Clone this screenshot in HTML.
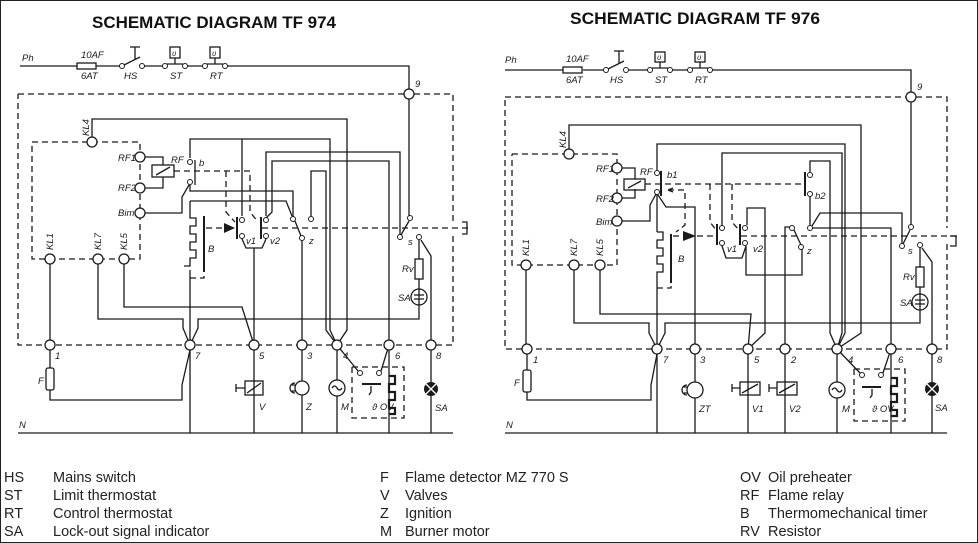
<!DOCTYPE html>
<html><head><meta charset="utf-8"><style>
html,body{margin:0;padding:0;background:#fff;}
svg{display:block;}
.w{fill:none;stroke:#1a1a1a;stroke-width:1.3;}
.d{fill:none;stroke:#1a1a1a;stroke-width:1.3;stroke-dasharray:6 4;}
.n{fill:#fff;stroke:#1a1a1a;stroke-width:1.3;}
.c{fill:#fff;stroke:#1a1a1a;stroke-width:1;}
.l{font-family:"Liberation Sans",sans-serif;font-style:italic;font-size:9.5px;fill:#1a1a1a;}
.t{font-family:"Liberation Sans",sans-serif;font-weight:bold;font-size:17px;fill:#111;}
.g{font-family:"Liberation Sans",sans-serif;font-size:14.5px;fill:#222;}
</style></head><body>
<svg width="978" height="543" viewBox="0 0 978 543" xmlns="http://www.w3.org/2000/svg">
<rect x="0.5" y="0.5" width="977" height="542" fill="#fff" stroke="#222" stroke-width="1"/>
<text class="t" x="92" y="28" textLength="244" lengthAdjust="spacingAndGlyphs">SCHEMATIC DIAGRAM TF 974</text>
<text class="t" x="570" y="24" textLength="250" lengthAdjust="spacingAndGlyphs">SCHEMATIC DIAGRAM TF 976</text>

<!-- ================= LEFT ================= -->
<g>
<path class="w" d="M20,66 H77 M96,66 H120 M144,66 H163 M187,66 H203 M227,66 H409 V89"/>
<rect x="77" y="63" width="19" height="6" class="w"/>
<circle class="c" cx="122" cy="66" r="2.5"/><circle class="c" cx="142" cy="66" r="2.5"/>
<path class="w" d="M124,65 L140,57 M135,60 V47 M130,47 H140"/>
<circle class="c" cx="165" cy="66" r="2.5"/><circle class="c" cx="185" cy="66" r="2.5"/>
<path class="w" d="M167,64 H183 M175,64 V58"/><rect class="w" x="170" y="47" width="10" height="11"/>
<circle class="c" cx="205" cy="66" r="2.5"/><circle class="c" cx="225" cy="66" r="2.5"/>
<path class="w" d="M207,64 H223 M215,64 V58"/><rect class="w" x="210" y="47" width="10" height="11"/>
<text class="l" x="22" y="61">Ph</text><text class="l" x="81" y="58">10AF</text><text class="l" x="81" y="79">6AT</text>
<text class="l" x="124" y="79">HS</text><text class="l" x="170" y="79">ST</text><text class="l" x="210" y="79">RT</text>
<text class="l" x="172" y="56" style="font-size:8px">υ</text><text class="l" x="212" y="56" style="font-size:8px">υ</text>
<text class="l" x="415" y="87">9</text>

<path class="d" d="M18,94 H404 M414,94 H453 V222 M453,236 V345 H18 V94"/>
<path class="d" d="M32,142 H140 V259 H32 V142"/>
<path class="w" d="M462,222 h5 v12 h-5"/>

<path class="w" d="M92,137 V119 H347 V330 L337,345"/>
<path class="w" d="M190,158 V139 H242 V216 M242,139 H330 V330 L337,345"/>
<path class="w" d="M400,235 V152 H266 V216"/>
<path class="w" d="M389,340 V161 H272 V212 L266,218"/>
<path class="w" d="M311,216 V171 H326 V330 L337,345"/>
<path class="w" d="M145,157 H163 V165 M145,188 H163 V177"/>
<rect class="w" x="152" y="165" width="22" height="12"/><path class="w" d="M156,175 L170,167"/>
<text class="l" x="171" y="163">RF</text>
<path class="w" d="M195,160 V185"/>
<circle class="c" cx="190" cy="162" r="2.5"/><circle class="c" cx="190" cy="182" r="2.5"/>
<text class="l" x="199" y="166">b</text>
<path class="w" d="M145,213 H182 V197 L189,185"/>
<path class="w" d="M190,185 V191 H293 V217"/>
<path class="w" d="M190,201 H286 L292,216"/>
<path class="d" d="M174,171 H250 V212 L258,222 M226,171 V212 L235,222"/>
<path class="w" d="M295,221 L301,236"/>
<circle class="c" cx="293" cy="219" r="2.5"/><circle class="c" cx="311" cy="219" r="2.5"/><circle class="c" cx="302" cy="238" r="2.5"/>
<text class="l" x="309" y="244">z</text>
<path class="w" d="M302,241 V340"/>
<path class="w" d="M190,201 V218 h6 v8 h-6 v8 h6 v8 h-6 v8 h6 v8 h-6 v8 h-6 M190,270 V340"/>
<path class="w" d="M204,216 V272" style="stroke-width:2"/>
<path class="d" d="M190,278 H204 V272"/>
<text class="l" x="208" y="252">B</text>
<path class="d" d="M206,228 H226"/>
<path d="M224,223 L235,228 L224,233 Z" fill="#1a1a1a"/>
<path class="w" d="M237,217 V239 M261,217 V239" style="stroke-width:2"/>
<path class="d" d="M262,228 H470"/>
<circle class="c" cx="242" cy="220" r="2.5"/><circle class="c" cx="242" cy="236" r="2.5"/>
<circle class="c" cx="266" cy="220" r="2.5"/><circle class="c" cx="266" cy="236" r="2.5"/>
<path class="w" d="M242,239 L246,248 H262 L266,239 M254,248 V340"/>
<text class="l" x="246" y="244">v1</text><text class="l" x="270" y="244">v2</text>
<path class="w" d="M409,99 V216 M409,221 L401,235"/>
<circle class="c" cx="410" cy="218" r="2.5"/><circle class="c" cx="400" cy="237" r="2.5"/><circle class="c" cx="419" cy="237" r="2.5"/>
<text class="l" x="408" y="245">s</text>
<path class="w" d="M419,240 V259 M419,279 V289 M421,240 L431,256 V340"/>
<rect class="w" x="415" y="259" width="8" height="20"/>
<text class="l" x="402" y="272">Rv</text>
<circle class="w" cx="419" cy="297" r="8"/><path class="w" d="M419,289 V305 M414,295 H424 M414,299 H424"/>
<text class="l" x="398" y="301">SA</text>
<path class="w" d="M419,305 V319 H198 V328 L190,345 M98,264 V319 H183 V328 L190,345"/>
<path class="w" d="M124,264 V307 H242 L254,345"/>
<path class="w" d="M50,264 V340 M50,350 V368 M50,390 V400 H182 V385 L190,350 M190,350 V433"/>
<rect class="w" x="46" y="368" width="8" height="22" rx="2"/>
<text class="l" x="38" y="384">F</text>
<path class="w" d="M254,350 V433 M302,350 V433 M337,350 V433 M389,350 V433 M431,350 V433"/>
<rect class="w" x="245" y="381" width="18" height="14" fill="#fff"/><path class="w" d="M247,393 L261,383 M236,384 V392 M236,388 H245"/>
<text class="l" x="259" y="410">V</text>
<circle class="n" cx="302" cy="388" r="7"/><path class="w" d="M295,383 a5,5 0 0 0 0,10 M292,385 h3 M292,391 h3"/>
<text class="l" x="306" y="410">Z</text>
<circle class="n" cx="337" cy="388" r="8"/><path class="w" d="M332,388 q2.5,-4 5,0 t5,0"/>
<text class="l" x="341" y="410">M</text>
<path class="d" d="M352,367 H404 V418 H352 V367"/>
<path class="w" d="M337,345 L358,371 M389,345 L381,371"/>
<circle class="c" cx="360" cy="373" r="2.5"/><circle class="c" cx="379" cy="373" r="2.5"/>
<path class="w" d="M362,384 H381" style="stroke-width:2"/><path class="w" d="M371,386 v6 l-2,3"/>
<path d="M389,376 h6 v8 h-6 v8 h6 v8 h-6 v8 h6 v6 h-6" style="fill:none;stroke:#1a1a1a;stroke-width:2.2"/>
<text class="l" x="372" y="410">ϑ OV</text>
<circle cx="431" cy="389" r="7" fill="#1a1a1a"/><path d="M426,384 L436,394 M436,384 L426,394" stroke="#fff" stroke-width="1.3"/>
<text class="l" x="435" y="411">SA</text>
<path class="w" d="M18,433 H453"/><text class="l" x="19" y="428">N</text>
<g class="n">
<circle cx="409" cy="94" r="5"/><circle cx="92" cy="142" r="5"/><circle cx="140" cy="157" r="5"/><circle cx="140" cy="188" r="5"/><circle cx="140" cy="213" r="5"/>
<circle cx="50" cy="259" r="5"/><circle cx="98" cy="259" r="5"/><circle cx="124" cy="259" r="5"/>
<circle cx="50" cy="345" r="5"/><circle cx="190" cy="345" r="5"/><circle cx="254" cy="345" r="5"/><circle cx="302" cy="345" r="5"/><circle cx="337" cy="345" r="5"/><circle cx="389" cy="345" r="5"/><circle cx="431" cy="345" r="5"/>
</g>
<text class="l" x="118" y="161">RF1</text><text class="l" x="118" y="191">RF2</text><text class="l" x="118" y="216">Bim</text>
<text class="l" transform="translate(89,136) rotate(-90)">KL4</text>
<text class="l" transform="translate(53,250) rotate(-90)">KL1</text>
<text class="l" transform="translate(101,250) rotate(-90)">KL7</text>
<text class="l" transform="translate(127,250) rotate(-90)">KL5</text>
<text class="l" x="55" y="359">1</text><text class="l" x="195" y="359">7</text><text class="l" x="259" y="359">5</text><text class="l" x="307" y="359">3</text><text class="l" x="343" y="359">4</text><text class="l" x="395" y="359">6</text><text class="l" x="436" y="359">8</text>
</g>

<!-- ================= RIGHT ================= -->
<g>
<path class="w" d="M505,70 H563 M583,70 H604 M628,70 H648 M672,70 H690 M712,70 H911 V92"/>
<rect x="563" y="67" width="19" height="6" class="w"/>
<circle class="c" cx="606" cy="70" r="2.5"/><circle class="c" cx="626" cy="70" r="2.5"/>
<path class="w" d="M608,69 L624,61 M619,64 V51 M614,51 H624"/>
<circle class="c" cx="650" cy="70" r="2.5"/><circle class="c" cx="670" cy="70" r="2.5"/>
<path class="w" d="M652,68 H668 M660,68 V62"/><rect class="w" x="655" y="52" width="10" height="10"/>
<circle class="c" cx="690" cy="70" r="2.5"/><circle class="c" cx="710" cy="70" r="2.5"/>
<path class="w" d="M692,68 H708 M700,68 V62"/><rect class="w" x="695" y="52" width="10" height="10"/>
<text class="l" x="505" y="63">Ph</text><text class="l" x="566" y="62">10AF</text><text class="l" x="566" y="83">6AT</text>
<text class="l" x="610" y="83">HS</text><text class="l" x="655" y="83">ST</text><text class="l" x="695" y="83">RT</text>
<text class="l" x="657" y="60" style="font-size:8px">υ</text><text class="l" x="697" y="60" style="font-size:8px">υ</text>
<text class="l" x="917" y="90">9</text>

<path class="d" d="M505,97 H906 M916,97 H947 V228 M947,244 V349 H505 V97"/>
<path class="d" d="M512,154 H617 V265 H512 V154"/>
<path class="w" d="M950,236 h6 v10 h-6"/>

<path class="w" d="M569,149 V125 H861 V333 L837,349"/>
<path class="w" d="M657,170 V144 H845 V333 L837,349"/>
<path class="w" d="M722,225 V153 H842 V333 L837,349"/>
<path class="w" d="M810,172 V161 H830 V333 L837,349"/>
<path class="w" d="M622,168 H635 V179 M622,198 H635 V189"/>
<rect class="w" x="624" y="179" width="21" height="11"/><path class="w" d="M628,188 L641,181"/>
<text class="l" x="640" y="175">RF</text>
<path class="w" d="M661,171 V196" style="stroke-width:2"/>
<circle class="c" cx="657" cy="173" r="2.5"/><circle class="c" cx="657" cy="192" r="2.5"/>
<text class="l" x="667" y="178">b1</text>
<path class="d" d="M645,184 H805"/>
<path class="w" d="M805,172 V196" style="stroke-width:2"/>
<circle class="c" cx="810" cy="175" r="2.5"/><circle class="c" cx="810" cy="194" r="2.5"/>
<text class="l" x="815" y="199">b2</text>
<path class="d" d="M668,190 H685 V225 L676,232 M710,184 V222 L716,230 M732,184 V222 L739,230"/>
<path class="w" d="M668,190 l5,-2 M668,190 l5,2"/>
<path class="w" d="M622,221 H650 V205 L656,194 M657,195 V232 M658,195 L666,207 H695 V344"/>
<path class="w" d="M657,232 h6 v8 h-6 v8 h6 v8 h-6 v8 h6 v8 h-6 v8 M657,280 V433"/>
<path class="w" d="M671,234 V283" style="stroke-width:2"/>
<path class="d" d="M657,288 H671 V283"/>
<text class="l" x="678" y="262">B</text>
<path class="d" d="M673,236 H683"/>
<path d="M683,231 L696,236 L683,241 Z" fill="#1a1a1a"/>
<path class="d" d="M697,236 H716"/>
<path class="w" d="M717,224 V245 M740,224 V245" style="stroke-width:2"/>
<path class="d" d="M741,236 H957"/>
<circle class="c" cx="722" cy="228" r="2.5"/><circle class="c" cx="722" cy="243" r="2.5"/>
<circle class="c" cx="745" cy="228" r="2.5"/><circle class="c" cx="745" cy="243" r="2.5"/>
<path class="w" d="M722,246 L726,258 H742 L746,246"/>
<text class="l" x="727" y="252">v1</text><text class="l" x="753" y="252">v2</text>
<path class="w" d="M747,225 V208 H765 V333 L748,349"/>
<path class="w" d="M746,246 V275 H802 V249"/>
<path class="w" d="M790,227 H785 V344 M794,230 L801,245"/>
<circle class="c" cx="792" cy="228" r="2.5"/><circle class="c" cx="801" cy="247" r="2.5"/><circle class="c" cx="810" cy="228" r="2.5"/>
<text class="l" x="807" y="254">z</text>
<path class="w" d="M810,197 V225 M812,226 L820,213 H902 V243 M812,228 H891 V344"/>
<path class="w" d="M911,102 V225 M910,230 L903,244"/>
<circle class="c" cx="911" cy="227" r="2.5"/><circle class="c" cx="902" cy="246" r="2.5"/><circle class="c" cx="920" cy="245" r="2.5"/>
<text class="l" x="908" y="254">s</text>
<path class="w" d="M920,248 V267 M920,287 V294 M922,248 L932,262 V344"/>
<rect class="w" x="916" y="267" width="8" height="20"/>
<text class="l" x="903" y="280">Rv</text>
<circle class="w" cx="920" cy="302" r="8"/><path class="w" d="M920,294 V310 M915,300 H925 M915,304 H925"/>
<text class="l" x="900" y="306">SA</text>
<path class="w" d="M920,310 V323 H665 V333 L657,349 M574,270 V323 H649 V333 L657,349"/>
<path class="w" d="M600,270 V314 H751 L748,349"/>
<path class="w" d="M526,270 V344 M527,354 V370 M527,392 V400 H651 V385 L657,354"/>
<rect class="w" x="523" y="370" width="8" height="22" rx="2"/>
<text class="l" x="514" y="386">F</text>
<path class="w" d="M695,354 V433 M748,354 V433 M785,354 V433 M837,354 V433 M891,354 V433 M932,354 V433"/>
<circle class="n" cx="695" cy="390" r="8"/><path class="w" d="M687,385 a5,5 0 0 0 0,10 M684,387 h3 M684,393 h3"/>
<text class="l" x="699" y="412">ZT</text>
<rect class="w" x="740" y="382" width="20" height="13" fill="#fff"/><path class="w" d="M742,393 L758,384 M732,384 V392 M732,388 H740"/>
<text class="l" x="752" y="412">V1</text>
<rect class="w" x="777" y="382" width="20" height="13" fill="#fff"/><path class="w" d="M779,393 L795,384 M769,384 V392 M769,388 H777"/>
<text class="l" x="789" y="412">V2</text>
<circle class="n" cx="837" cy="390" r="8"/><path class="w" d="M832,390 q2.5,-4 5,0 t5,0"/>
<text class="l" x="842" y="412">M</text>
<path class="d" d="M854,369 H905 V421 H854 V369"/>
<path class="w" d="M837,349 L860,373 M891,349 L883,373"/>
<circle class="c" cx="862" cy="375" r="2.5"/><circle class="c" cx="881" cy="375" r="2.5"/>
<path class="w" d="M862,387 H881" style="stroke-width:2"/><path class="w" d="M872,389 v6 l-2,3"/>
<path d="M891,378 h6 v8 h-6 v8 h6 v8 h-6 v8 h6 v6 h-6" style="fill:none;stroke:#1a1a1a;stroke-width:2.2"/>
<text class="l" x="872" y="412">ϑ OV</text>
<circle cx="932" cy="389" r="7" fill="#1a1a1a"/><path d="M927,384 L937,394 M937,384 L927,394" stroke="#fff" stroke-width="1.3"/>
<text class="l" x="935" y="411">SA</text>
<path class="w" d="M505,433 H947"/><text class="l" x="506" y="428">N</text>
<g class="n">
<circle cx="911" cy="97" r="5"/><circle cx="569" cy="154" r="5"/><circle cx="617" cy="168" r="5"/><circle cx="617" cy="198" r="5"/><circle cx="617" cy="221" r="5"/>
<circle cx="526" cy="265" r="5"/><circle cx="574" cy="265" r="5"/><circle cx="600" cy="265" r="5"/>
<circle cx="527" cy="349" r="5"/><circle cx="657" cy="349" r="5"/><circle cx="695" cy="349" r="5"/><circle cx="748" cy="349" r="5"/><circle cx="785" cy="349" r="5"/><circle cx="837" cy="349" r="5"/><circle cx="891" cy="349" r="5"/><circle cx="932" cy="349" r="5"/>
</g>
<text class="l" x="596" y="172">RF1</text><text class="l" x="596" y="202">RF2</text><text class="l" x="596" y="225">Bim</text>
<text class="l" transform="translate(566,148) rotate(-90)">KL4</text>
<text class="l" transform="translate(529,256) rotate(-90)">KL1</text>
<text class="l" transform="translate(577,256) rotate(-90)">KL7</text>
<text class="l" transform="translate(603,256) rotate(-90)">KL5</text>
<text class="l" x="533" y="363">1</text><text class="l" x="663" y="363">7</text><text class="l" x="700" y="363">3</text><text class="l" x="754" y="363">5</text><text class="l" x="791" y="363">2</text><text class="l" x="848" y="363">4</text><text class="l" x="898" y="363">6</text><text class="l" x="937" y="363">8</text>
</g>

<g class="g">
<text x="4" y="482">HS</text><text x="53" y="482">Mains switch</text>
<text x="4" y="500">ST</text><text x="53" y="500">Limit thermostat</text>
<text x="4" y="518">RT</text><text x="53" y="518">Control thermostat</text>
<text x="4" y="536">SA</text><text x="53" y="536">Lock-out signal indicator</text>
<text x="380" y="482">F</text><text x="405" y="482">Flame detector MZ 770 S</text>
<text x="380" y="500">V</text><text x="405" y="500">Valves</text>
<text x="380" y="518">Z</text><text x="405" y="518">Ignition</text>
<text x="380" y="536">M</text><text x="405" y="536">Burner motor</text>
<text x="740" y="482">OV</text><text x="768" y="482">Oil preheater</text>
<text x="740" y="500">RF</text><text x="768" y="500">Flame relay</text>
<text x="740" y="518">B</text><text x="768" y="518">Thermomechanical timer</text>
<text x="740" y="536">RV</text><text x="768" y="536">Resistor</text>
</g>
</svg>
</body></html>
